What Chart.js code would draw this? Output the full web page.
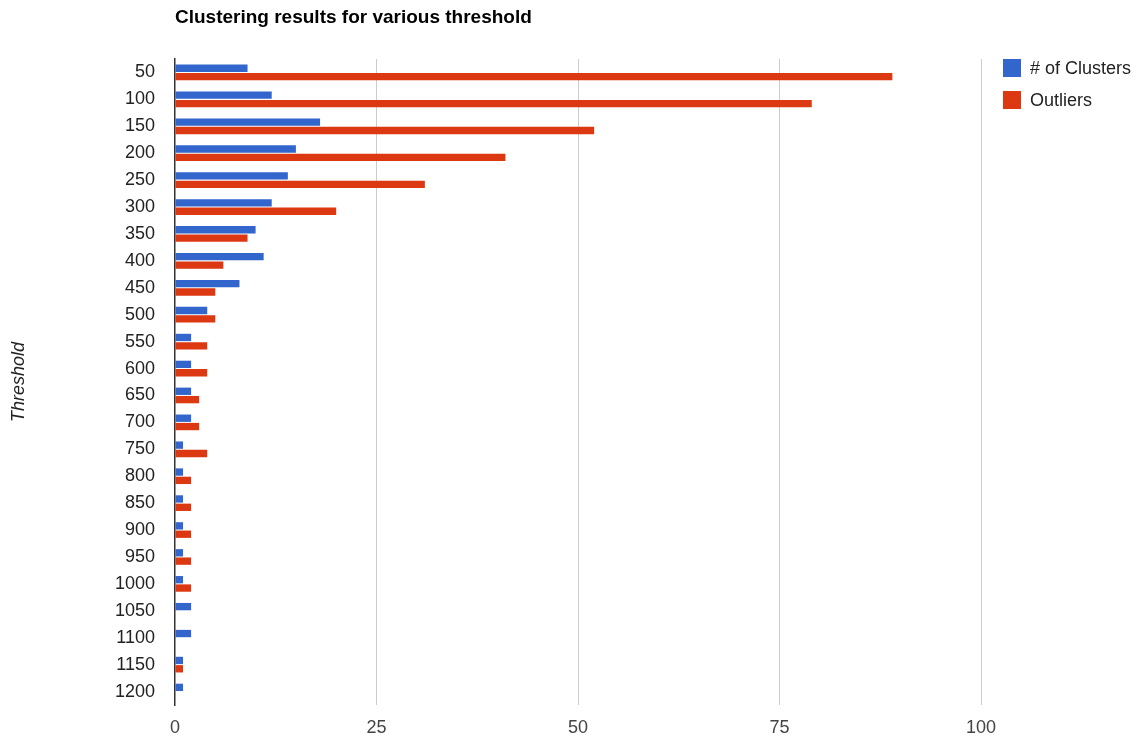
<!DOCTYPE html>
<html>
<head>
<meta charset="utf-8">
<script src="https://cdn.jsdelivr.net/npm/chart.js@4/dist/chart.umd.min.js"></script>
<style>
  html, body { margin: 0; padding: 0; background: #fff; }
  #wrap { width: 1142px; height: 740px; position: relative; }
</style>
</head>
<body>
<div id="wrap"><canvas id="myChart"></canvas></div>
<script>
const thresholds = ['50', '100', '150', '200', '250', '300', '350', '400', '450', '500', '550', '600',
    '650', '700', '750', '800', '850', '900', '950', '1000', '1050', '1100', '1150', '1200'];
const clusters = [9, 12, 18, 15, 14, 12, 10, 11, 8, 4, 2, 2, 2, 2, 1, 1, 1, 1, 1, 1, 2, 2, 1, 1];
const outliers = [89, 79, 52, 41, 31, 20, 9, 6, 5, 5, 4, 4, 3, 3, 4, 2, 2, 2, 2, 2, 0, 0, 1, 0];
const xTicks = [0, 25, 50, 75, 100];

const chartTitle = 'Clustering results for various threshold';
const FONT = '"Liberation Sans", Arial, sans-serif';

// title on top + legend to the right of the plot
const extras = {
    id: 'extras',
    afterDraw(chart) {
        const {ctx, chartArea} = chart;
        ctx.save();
        ctx.font = 'bold 19px ' + FONT;
        ctx.fillStyle = '#000';
        ctx.textBaseline = 'middle';
        ctx.textAlign = 'left';
        ctx.fillText(chartTitle, chartArea.left, 18);

        ctx.font = '18px ' + FONT;
        chart.data.datasets.forEach((ds, i) => {
            const y = 68 + i * 32;
            ctx.fillStyle = ds.backgroundColor;
            ctx.fillRect(chartArea.right + 22, y - 9, 18, 18);
            ctx.fillStyle = '#222';
            ctx.fillText(ds.label, chartArea.right + 49, y + 1);
        });
        ctx.restore();
    }
};

const ctx = document.getElementById('myChart').getContext('2d');
const myChart = new Chart(ctx, {
    type: 'bar',
    data: {
        labels: thresholds,
        datasets: [{
            label: '# of Clusters',
            data: clusters,
            backgroundColor: '#3366cc',
            barPercentage: 0.88,
            categoryPercentage: 0.62
        }, {
            label: 'Outliers',
            data: outliers,
            backgroundColor: '#dc3912',
            barPercentage: 0.88,
            categoryPercentage: 0.62
        }]
    },
    options: {
        indexAxis: 'y',
        responsive: true,
        maintainAspectRatio: false,
        animation: false,
        layout: {
            padding: { top: 59, right: 161, bottom: 0, left: 0 }
        },
        plugins: {
            legend: { display: false },
            title: { display: false },
            tooltip: { enabled: false }
        },
        scales: {
            x: {
                min: 0,
                max: 100,
                afterBuildTicks: (scale) => {
                    scale.ticks = xTicks.map(v => ({ value: v }));
                },
                afterFit: (scale) => { scale.height = 35; },
                grid: {
                    drawTicks: false,
                    color: (c) => c.tick && c.tick.value === 0 ? 'rgba(0,0,0,0)' : '#cccccc'
                },
                border: { display: false },
                ticks: {
                    color: '#444',
                    padding: 12,
                    font: { size: 18, family: FONT }
                }
            },
            y: {
                afterFit: (scale) => { scale.width = 175; },
                grid: { display: false, drawTicks: false },
                border: { display: true, color: '#333', width: 1.5 },
                ticks: {
                    color: '#222',
                    padding: 20,
                    autoSkip: false,
                    font: { size: 18, family: FONT }
                },
                title: {
                    display: true,
                    text: 'Threshold',
                    color: '#222',
                    padding: { top: 8, bottom: 0 },
                    font: { size: 18, style: 'italic', family: FONT }
                }
            }
        }
    },
    plugins: [extras]
});
</script>
</body>
</html>
